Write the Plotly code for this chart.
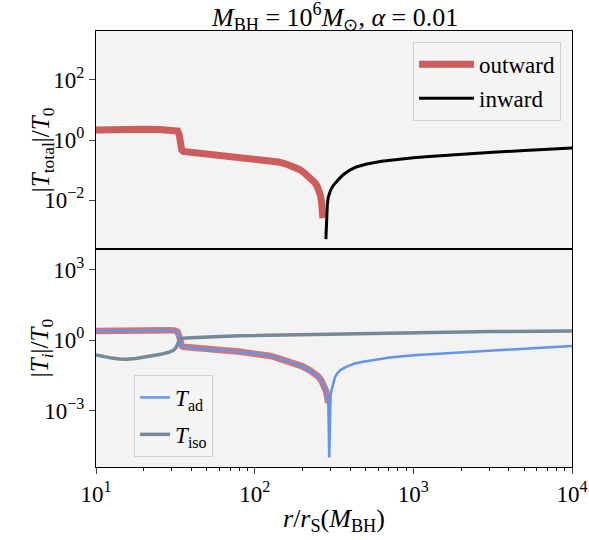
import numpy as np
import plotly.graph_objects as go

# ---- data: upper panel, |T_total| / T_0 ----
r_outward = [10, 12.6, 15.8, 20.0, 25.1, 29.5, 31.6, 32.7, 33.5, 34.0, 34.7, 35.5, 39.8,
             50.1, 63.1, 79.4, 100, 112, 126, 141, 158, 178, 191, 204, 219, 229, 240,
             248, 254, 260, 264, 267.3, 269]
T_outward = [2.14, 2.24, 2.29, 2.29, 2.24, 2.19, 2.14, 2.0, 1.41, 0.708, 0.468, 0.417,
             0.389, 0.355, 0.316, 0.282, 0.251, 0.234, 0.214, 0.186, 0.158, 0.126, 0.105,
             0.083, 0.063, 0.050, 0.038, 0.0282, 0.0209, 0.0141, 0.0089, 0.005, 0.0025]

r_inward = [281, 282.5, 284.4, 287.1, 291, 296.5, 302, 312.6, 323.6, 339, 363, 398, 437,
            501, 631, 794, 1000, 1259, 1585, 1995, 3162, 5012, 7079, 10000]
T_inward = [0.0005, 0.00158, 0.0040, 0.0071, 0.0126, 0.0178, 0.0224, 0.0302, 0.038,
            0.050, 0.0708, 0.100, 0.126, 0.155, 0.195, 0.229, 0.257, 0.282, 0.309, 0.331,
            0.389, 0.447, 0.490, 0.537]

# ---- data: lower panel, |T_i| / T_0 (T_ad signed: >0 outward, <0 inward) ----
r_ad = [10, 12.6, 15.8, 20.0, 25.1, 29.5, 31.6, 32.7, 33.5, 34.0, 34.7, 35.5, 39.8, 50.1,
        63.1, 79.4, 100, 112, 126, 141, 158, 178, 200, 224, 240, 251, 263, 272, 281,
        286.4, 291, 295, 298, 301, 305.5, 312.6, 320.6, 331, 347, 380, 427, 483, 562,
        708, 1000, 1698, 3162, 5623, 10000]
T_ad = [2.40, 2.51, 2.63, 2.69, 2.69, 2.63, 2.51, 2.24, 1.41, 0.794, 0.562, 0.513, 0.468,
        0.407, 0.363, 0.324, 0.275, 0.245, 0.209, 0.166, 0.132, 0.100, 0.0759, 0.050,
        0.0372, 0.0282, 0.0191, 0.0126, 0.0071, 0.0040, 0.0021, -0.00001, -0.0025,
        -0.0045, -0.0074, -0.0158, -0.0263, -0.038, -0.0525, -0.074, -0.100, -0.120,
        -0.145, -0.182, -0.224, -0.282, -0.355, -0.447, -0.550]

r_iso = [10, 11.2, 12.6, 14.1, 15.5, 17.8, 20.0, 25.1, 28.8, 30.9, 32.0, 32.7, 33.5,
         34.3, 39.8, 79.4, 316, 1000, 3162, 10000]
T_iso = [0.229, 0.195, 0.170, 0.155, 0.151, 0.162, 0.182, 0.240, 0.302, 0.372, 0.479,
         0.708, 1.0, 1.175, 1.259, 1.514, 1.82, 2.09, 2.29, 2.40]

x_ticks = [10, 100, 1000, 10000]
x_ticktext = ["10<sup>1</sup>", "10<sup>2</sup>", "10<sup>3</sup>", "10<sup>4</sup>"]
x_minor = [m * 10 ** d for d in (1, 2, 3) for m in range(2, 10)]
y1_ticks = [1e-2, 1, 1e2]
y1_ticktext = ["10<sup>\u22122</sup>", "10<sup>0</sup>", "10<sup>2</sup>"]
y2_ticks = [1e-3, 1, 1e3]
y2_ticktext = ["10<sup>\u22123</sup>", "10<sup>0</sup>", "10<sup>3</sup>"]

RED = "#cd5c5c"
BLUE = "#6495ed"
GREY = "#778899"
FONT = "Liberation Serif"

T_ad_arr = np.array(T_ad)
r_ad_arr = np.array(r_ad)
pos = T_ad_arr > 0

fig = go.Figure()

# upper panel
fig.add_trace(go.Scatter(x=r_outward, y=T_outward, mode="lines", name="outward",
                         line=dict(color=RED, width=7), xaxis="x2", yaxis="y2",
                         legend="legend", legendgroup="a"))
fig.add_trace(go.Scatter(x=r_inward, y=T_inward, mode="lines", name="inward",
                         line=dict(color="black", width=3), xaxis="x2", yaxis="y2",
                         legend="legend", legendgroup="b"))

# lower panel: red highlight where T_ad is outward
fig.add_trace(go.Scatter(x=r_ad_arr[pos], y=T_ad_arr[pos], mode="lines",
                         line=dict(color="rgba(205,92,92,0.85)", width=6.5),
                         showlegend=False, xaxis="x", yaxis="y"))
fig.add_trace(go.Scatter(x=r_ad, y=np.abs(T_ad_arr), mode="lines", name="<i>T</i><sub>ad</sub>",
                         line=dict(color=BLUE, width=2.5), xaxis="x", yaxis="y",
                         legend="legend2", legendgroup="c"))
fig.add_trace(go.Scatter(x=r_iso, y=T_iso, mode="lines", name="<i>T</i><sub>iso</sub>",
                         line=dict(color=GREY, width=3.5), xaxis="x", yaxis="y",
                         legend="legend2", legendgroup="d"))

axis_common = dict(showline=True, mirror=True, linecolor="black", linewidth=1,
                   showgrid=False, zeroline=False, type="log", automargin=False,
                   tickfont=dict(family=FONT, size=23, color="black"))

legend_common = dict(bgcolor="rgba(245,245,245,0.9)", bordercolor="#d0d0d0",
                     borderwidth=1, font=dict(family=FONT, size=23))

fig.update_layout(
    width=589, height=540,
    margin=dict(l=96, r=17, t=31, b=73, autoexpand=False),
    paper_bgcolor="white", plot_bgcolor="#f3f3f3",
    font=dict(family=FONT, color="black"),
    xaxis=dict(**axis_common, domain=[0, 1], range=[1, 4], anchor="y",
               tickvals=x_ticks, ticktext=x_ticktext, ticks="outside", ticklen=6,
               minor=dict(tickvals=x_minor, ticks="outside", ticklen=3, tickcolor="black")),
    yaxis=dict(**axis_common, domain=[0, 0.5], range=[-5.40, 3.87], anchor="x",
               tickvals=y2_ticks, ticktext=y2_ticktext, ticks="outside", ticklen=6),
    xaxis2=dict(**axis_common, domain=[0, 1], range=[1, 4], anchor="y2",
                matches="x", showticklabels=False, ticks=""),
    yaxis2=dict(**axis_common, domain=[0.5, 1], range=[-3.63, 3.63], anchor="x2",
                tickvals=y1_ticks, ticktext=y1_ticktext, ticks="outside", ticklen=6),
    legend=dict(**legend_common, x=0.977, xanchor="right", y=0.975, yanchor="top",
                tracegroupgap=1, itemwidth=55),
    legend2=dict(**legend_common, x=0.08, xanchor="left", y=0.023, yanchor="bottom",
                 tracegroupgap=4, itemwidth=30),
    annotations=[
        # panel title
        dict(text="<i>M</i><sub>BH</sub> = 10<sup>6</sup><i>M</i><sub>\u2299</sub>, <i>\u03b1</i> = 0.01",
             xref="paper", yref="paper", x=0.5, y=1.031, xanchor="center",
             yanchor="middle", showarrow=False, font=dict(family=FONT, size=26)),
        dict(text="|<i>T</i><sub>total</sub>|/<i>T</i><sub>0</sub>", textangle=-90,
             xref="paper", yref="paper", x=-0.113, y=0.727, xanchor="center",
             yanchor="middle", showarrow=False, font=dict(family=FONT, size=25)),
        dict(text="|<i>T<sub>i</sub></i>|/<i>T</i><sub>0</sub>", textangle=-90,
             xref="paper", yref="paper", x=-0.113, y=0.273, xanchor="center",
             yanchor="middle", showarrow=False, font=dict(family=FONT, size=25)),
        dict(text="<i>r</i>/<i>r</i><sub>S</sub>(<i>M</i><sub>BH</sub>)",
             xref="paper", yref="paper", x=0.5, y=-0.122, xanchor="center",
             yanchor="middle", showarrow=False, font=dict(family=FONT, size=26)),
    ],
)

fig.write_html("out.html")
